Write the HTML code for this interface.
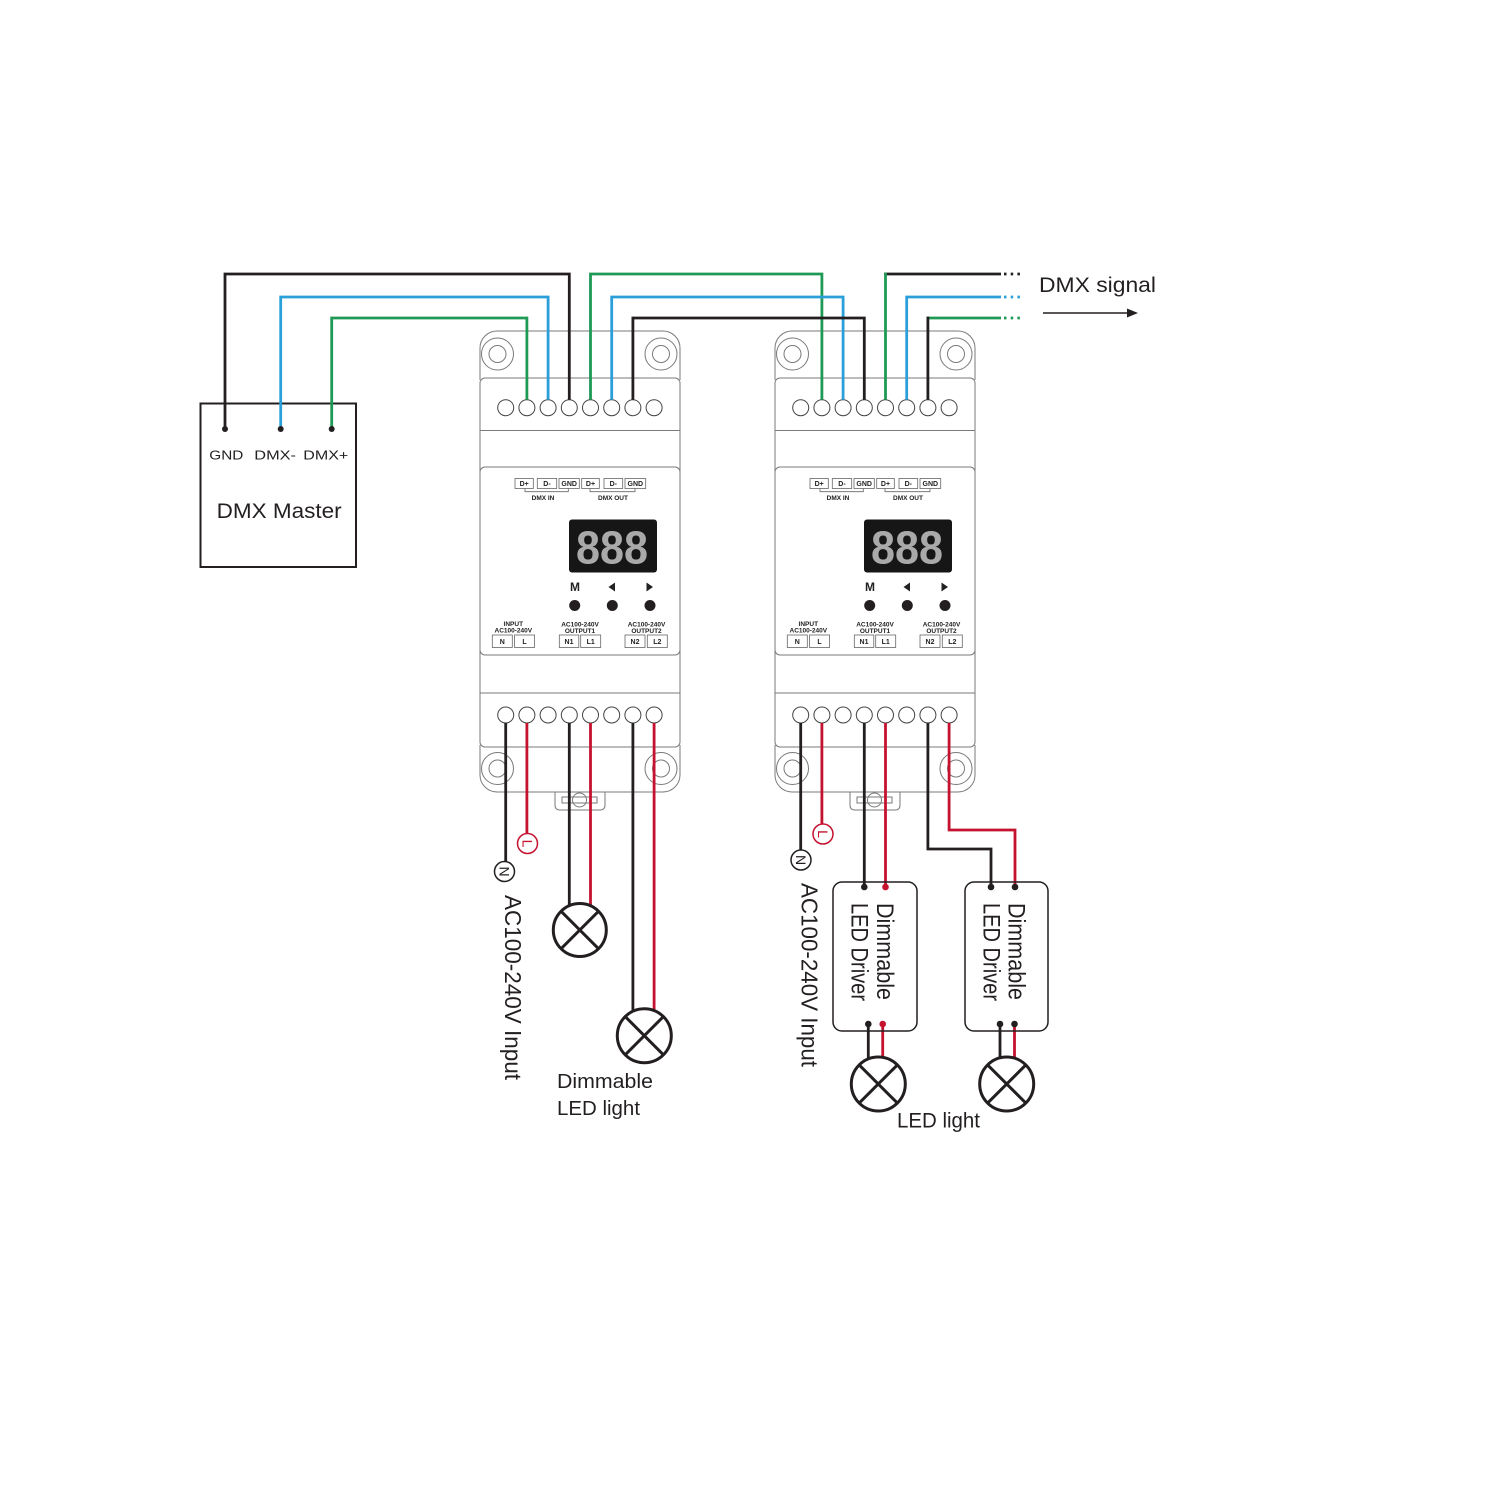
<!DOCTYPE html>
<html>
<head>
<meta charset="utf-8">
<style>
html,body{margin:0;padding:0;background:#fff;}
svg{display:block;}
text{font-family:"Liberation Sans",sans-serif;}
.pl{font-weight:bold;font-size:7px;fill:#222;text-anchor:middle;}
</style>
</head>
<body>
<svg width="1500" height="1500" viewBox="0 0 1500 1500" xmlns="http://www.w3.org/2000/svg">
<rect width="1500" height="1500" fill="#fff"/>

<!-- ================= LEFT DEVICE ================= -->
<g id="dev1">
  <g fill="none" stroke="#7a7a7a" stroke-width="1">
    <path d="M480,380 V348 A17,17 0 0 1 497,331 H663 A17,17 0 0 1 680,348 V380"/>
    <rect x="480" y="378" width="200" height="369" rx="5"/>
    <line x1="480" y1="430.5" x2="680" y2="430.5"/>
    <rect x="480" y="467" width="200" height="188" rx="5"/>
    <line x1="480" y1="693" x2="680" y2="693"/>
    <path d="M480,745 V775 A17,17 0 0 0 497,792 H663 A17,17 0 0 0 680,775 V745"/>
    <circle cx="497.5" cy="354" r="16"/><circle cx="497.5" cy="354" r="8.5"/>
    <circle cx="661" cy="354" r="16"/><circle cx="661" cy="354" r="8.5"/>
    <circle cx="497.5" cy="768.5" r="16"/><circle cx="497.5" cy="768.5" r="8.5"/>
    <circle cx="661" cy="768.5" r="16"/><circle cx="661" cy="768.5" r="8.5"/>
    <path d="M555,792 V805 Q555,810 560,810 H600 Q605,810 605,805 V792"/>
    <circle cx="579.5" cy="800" r="7"/>
    <rect x="562" y="797" width="35" height="6"/>
  </g>
  <g fill="#fff" stroke="#444" stroke-width="1">
    <circle cx="505.7" cy="407.7" r="8"/><circle cx="526.9" cy="407.7" r="8"/>
    <circle cx="548.1" cy="407.7" r="8"/><circle cx="569.3" cy="407.7" r="8"/>
    <circle cx="590.5" cy="407.7" r="8"/><circle cx="611.7" cy="407.7" r="8"/>
    <circle cx="632.9" cy="407.7" r="8"/><circle cx="654.1" cy="407.7" r="8"/>
    <circle cx="505.7" cy="715" r="8"/><circle cx="526.9" cy="715" r="8"/>
    <circle cx="548.1" cy="715" r="8"/><circle cx="569.3" cy="715" r="8"/>
    <circle cx="590.5" cy="715" r="8"/><circle cx="611.7" cy="715" r="8"/>
    <circle cx="632.9" cy="715" r="8"/><circle cx="654.1" cy="715" r="8"/>
  </g>
  <g fill="none" stroke="#666" stroke-width="0.8">
    <rect x="515" y="478.5" width="18.3" height="10"/>
    <rect x="537.3" y="478.5" width="19.4" height="10"/>
    <rect x="559" y="478.5" width="20.3" height="10"/>
    <rect x="581.7" y="478.5" width="17.6" height="10"/>
    <rect x="604" y="478.5" width="18.7" height="10"/>
    <rect x="625" y="478.5" width="20.7" height="10"/>
    <path d="M525,488.5 V491.7 H568.3 V488.5"/>
    <path d="M590,488.5 V491.7 H635 V488.5"/>
  </g>
  <text class="pl" x="524.2" y="486.2">D+</text>
  <text class="pl" x="547" y="486.2">D-</text>
  <text class="pl" x="569.2" y="486.2">GND</text>
  <text class="pl" x="590.5" y="486.2">D+</text>
  <text class="pl" x="613.3" y="486.2">D-</text>
  <text class="pl" x="635.3" y="486.2">GND</text>
  <text class="pl" x="543" y="500" style="font-size:6.5px">DMX IN</text>
  <text class="pl" x="613" y="500" style="font-size:6.5px">DMX OUT</text>
  <rect x="569" y="519.5" width="88" height="53" rx="3" fill="#161616"/>
  <text x="576" y="563.5" font-size="46" font-weight="bold" fill="#a9a9a9" textLength="72" lengthAdjust="spacingAndGlyphs">888</text>
  <text x="575" y="591" font-size="12" font-weight="bold" fill="#222" text-anchor="middle">M</text>
  <polygon points="608.5,587 615,582.5 615,591.5" fill="#222"/>
  <polygon points="653,587 646.5,582.5 646.5,591.5" fill="#222"/>
  <circle cx="574.7" cy="605.5" r="5.5" fill="#231f20"/>
  <circle cx="612.3" cy="605.5" r="5.5" fill="#231f20"/>
  <circle cx="650" cy="605.5" r="5.5" fill="#231f20"/>
  <text class="pl" x="513.3" y="626" style="font-size:6.5px">INPUT</text>
  <text class="pl" x="513.3" y="632.3" style="font-size:6.5px">AC100-240V</text>
  <text class="pl" x="580" y="626.5" style="font-size:6.5px">AC100-240V</text>
  <text class="pl" x="580" y="633" style="font-size:6.5px">OUTPUT1</text>
  <text class="pl" x="646.5" y="626.5" style="font-size:6.5px">AC100-240V</text>
  <text class="pl" x="646.5" y="633" style="font-size:6.5px">OUTPUT2</text>
  <g fill="none" stroke="#666" stroke-width="0.8">
    <rect x="492.3" y="635" width="20" height="12.5"/>
    <rect x="514.5" y="635" width="20" height="12.5"/>
    <rect x="559.3" y="635" width="19.5" height="12.5"/>
    <rect x="580.7" y="635" width="20" height="12.5"/>
    <rect x="625" y="635" width="20" height="12.5"/>
    <rect x="647.3" y="635" width="20" height="12.5"/>
  </g>
  <text class="pl" x="502.3" y="644">N</text>
  <text class="pl" x="524.5" y="644">L</text>
  <text class="pl" x="569" y="644">N1</text>
  <text class="pl" x="590.7" y="644">L1</text>
  <text class="pl" x="635" y="644">N2</text>
  <text class="pl" x="657.3" y="644">L2</text>
</g>

<!-- ================= RIGHT DEVICE ================= -->
<g transform="translate(295,0)">
  <g fill="none" stroke="#7a7a7a" stroke-width="1">
    <path d="M480,380 V348 A17,17 0 0 1 497,331 H663 A17,17 0 0 1 680,348 V380"/>
    <rect x="480" y="378" width="200" height="369" rx="5"/>
    <line x1="480" y1="430.5" x2="680" y2="430.5"/>
    <rect x="480" y="467" width="200" height="188" rx="5"/>
    <line x1="480" y1="693" x2="680" y2="693"/>
    <path d="M480,745 V775 A17,17 0 0 0 497,792 H663 A17,17 0 0 0 680,775 V745"/>
    <circle cx="497.5" cy="354" r="16"/><circle cx="497.5" cy="354" r="8.5"/>
    <circle cx="661" cy="354" r="16"/><circle cx="661" cy="354" r="8.5"/>
    <circle cx="497.5" cy="768.5" r="16"/><circle cx="497.5" cy="768.5" r="8.5"/>
    <circle cx="661" cy="768.5" r="16"/><circle cx="661" cy="768.5" r="8.5"/>
    <path d="M555,792 V805 Q555,810 560,810 H600 Q605,810 605,805 V792"/>
    <circle cx="579.5" cy="800" r="7"/>
    <rect x="562" y="797" width="35" height="6"/>
  </g>
  <g fill="#fff" stroke="#444" stroke-width="1">
    <circle cx="505.7" cy="407.7" r="8"/><circle cx="526.9" cy="407.7" r="8"/>
    <circle cx="548.1" cy="407.7" r="8"/><circle cx="569.3" cy="407.7" r="8"/>
    <circle cx="590.5" cy="407.7" r="8"/><circle cx="611.7" cy="407.7" r="8"/>
    <circle cx="632.9" cy="407.7" r="8"/><circle cx="654.1" cy="407.7" r="8"/>
    <circle cx="505.7" cy="715" r="8"/><circle cx="526.9" cy="715" r="8"/>
    <circle cx="548.1" cy="715" r="8"/><circle cx="569.3" cy="715" r="8"/>
    <circle cx="590.5" cy="715" r="8"/><circle cx="611.7" cy="715" r="8"/>
    <circle cx="632.9" cy="715" r="8"/><circle cx="654.1" cy="715" r="8"/>
  </g>
  <g fill="none" stroke="#666" stroke-width="0.8">
    <rect x="515" y="478.5" width="18.3" height="10"/>
    <rect x="537.3" y="478.5" width="19.4" height="10"/>
    <rect x="559" y="478.5" width="20.3" height="10"/>
    <rect x="581.7" y="478.5" width="17.6" height="10"/>
    <rect x="604" y="478.5" width="18.7" height="10"/>
    <rect x="625" y="478.5" width="20.7" height="10"/>
    <path d="M525,488.5 V491.7 H568.3 V488.5"/>
    <path d="M590,488.5 V491.7 H635 V488.5"/>
  </g>
  <text class="pl" x="524.2" y="486.2">D+</text>
  <text class="pl" x="547" y="486.2">D-</text>
  <text class="pl" x="569.2" y="486.2">GND</text>
  <text class="pl" x="590.5" y="486.2">D+</text>
  <text class="pl" x="613.3" y="486.2">D-</text>
  <text class="pl" x="635.3" y="486.2">GND</text>
  <text class="pl" x="543" y="500" style="font-size:6.5px">DMX IN</text>
  <text class="pl" x="613" y="500" style="font-size:6.5px">DMX OUT</text>
  <rect x="569" y="519.5" width="88" height="53" rx="3" fill="#161616"/>
  <text x="576" y="563.5" font-size="46" font-weight="bold" fill="#a9a9a9" textLength="72" lengthAdjust="spacingAndGlyphs">888</text>
  <text x="575" y="591" font-size="12" font-weight="bold" fill="#222" text-anchor="middle">M</text>
  <polygon points="608.5,587 615,582.5 615,591.5" fill="#222"/>
  <polygon points="653,587 646.5,582.5 646.5,591.5" fill="#222"/>
  <circle cx="574.7" cy="605.5" r="5.5" fill="#231f20"/>
  <circle cx="612.3" cy="605.5" r="5.5" fill="#231f20"/>
  <circle cx="650" cy="605.5" r="5.5" fill="#231f20"/>
  <text class="pl" x="513.3" y="626" style="font-size:6.5px">INPUT</text>
  <text class="pl" x="513.3" y="632.3" style="font-size:6.5px">AC100-240V</text>
  <text class="pl" x="580" y="626.5" style="font-size:6.5px">AC100-240V</text>
  <text class="pl" x="580" y="633" style="font-size:6.5px">OUTPUT1</text>
  <text class="pl" x="646.5" y="626.5" style="font-size:6.5px">AC100-240V</text>
  <text class="pl" x="646.5" y="633" style="font-size:6.5px">OUTPUT2</text>
  <g fill="none" stroke="#666" stroke-width="0.8">
    <rect x="492.3" y="635" width="20" height="12.5"/>
    <rect x="514.5" y="635" width="20" height="12.5"/>
    <rect x="559.3" y="635" width="19.5" height="12.5"/>
    <rect x="580.7" y="635" width="20" height="12.5"/>
    <rect x="625" y="635" width="20" height="12.5"/>
    <rect x="647.3" y="635" width="20" height="12.5"/>
  </g>
  <text class="pl" x="502.3" y="644">N</text>
  <text class="pl" x="524.5" y="644">L</text>
  <text class="pl" x="569" y="644">N1</text>
  <text class="pl" x="590.7" y="644">L1</text>
  <text class="pl" x="635" y="644">N2</text>
  <text class="pl" x="657.3" y="644">L2</text>
</g>

<!-- ================= DMX MASTER ================= -->
<rect x="200.5" y="403.5" width="155.5" height="163.5" fill="none" stroke="#231f20" stroke-width="2"/>
<text x="209.3" y="459.5" font-size="13" fill="#231f20" textLength="34" lengthAdjust="spacingAndGlyphs">GND</text>
<text x="254.3" y="459.5" font-size="13" fill="#231f20" textLength="41.7" lengthAdjust="spacingAndGlyphs">DMX-</text>
<text x="303.3" y="459.5" font-size="13" fill="#231f20" textLength="45" lengthAdjust="spacingAndGlyphs">DMX+</text>
<text x="216.7" y="518" font-size="21" fill="#231f20" textLength="125" lengthAdjust="spacingAndGlyphs">DMX Master</text>

<!-- ================= TOP WIRES ================= -->
<g fill="none" stroke-width="2.8" stroke-linejoin="miter">
  <path d="M225,429 V274 H569.3 V399.7" stroke="#231f20"/>
  <path d="M280.7,429 V297 H548.1 V399.7" stroke="#2b9fd9"/>
  <path d="M331.7,429 V318 H526.9 V399.7" stroke="#1e9a55"/>
  <path d="M590.5,399.7 V274 H821.9 V399.7" stroke="#1e9a55"/>
  <path d="M611.7,399.7 V297 H843.1 V399.7" stroke="#2b9fd9"/>
  <path d="M632.9,399.7 V318 H864.3 V399.7" stroke="#231f20"/>
  <path d="M884.1,274 H1001" stroke="#231f20"/>
  <path d="M885.5,399.7 V272.6" stroke="#1e9a55"/>
  <path d="M906.7,399.7 V297 H1001" stroke="#2b9fd9"/>
  <path d="M926.5,318 H1001" stroke="#1e9a55"/>
  <path d="M927.9,399.7 V316.6" stroke="#231f20"/>
  <path d="M1004,274 H1021" stroke="#231f20" stroke-dasharray="2.5,4.2"/>
  <path d="M1004,297 H1021" stroke="#2b9fd9" stroke-dasharray="2.5,4.2"/>
  <path d="M1004,318 H1021" stroke="#1e9a55" stroke-dasharray="2.5,4.2"/>
</g>
<circle cx="225" cy="429" r="3" fill="#231f20"/>
<circle cx="280.7" cy="429" r="3" fill="#231f20"/>
<circle cx="331.7" cy="429" r="3" fill="#231f20"/>

<text x="1039" y="292" font-size="21" fill="#231f20" textLength="117" lengthAdjust="spacingAndGlyphs">DMX signal</text>
<line x1="1043" y1="313" x2="1129" y2="313" stroke="#231f20" stroke-width="1.5"/>
<polygon points="1138,313 1127,308.5 1127,317.5" fill="#231f20"/>

<!-- ================= BOTTOM LEFT WIRES ================= -->
<g fill="none" stroke-width="2.8">
  <path d="M505.7,723 V862" stroke="#231f20"/>
  <path d="M526.9,723 V833.5" stroke="#c4122f"/>
  <path d="M569.3,723 V906" stroke="#231f20"/>
  <path d="M590.5,723 V906" stroke="#c4122f"/>
  <path d="M632.9,723 V1012" stroke="#231f20"/>
  <path d="M654.1,723 V1012" stroke="#c4122f"/>
</g>
<circle cx="504.5" cy="871.5" r="10" fill="#fff" stroke="#231f20" stroke-width="1.5"/>
<text transform="translate(504.5,871.5) rotate(90)" text-anchor="middle" dominant-baseline="central" font-size="14" fill="#231f20">N</text>
<circle cx="527.5" cy="843.5" r="10" fill="#fff" stroke="#c4122f" stroke-width="1.5"/>
<text transform="translate(527.5,843.5) rotate(90)" text-anchor="middle" dominant-baseline="central" font-size="14" fill="#c4122f">L</text>
<text transform="translate(505,895) rotate(90)" font-size="23" fill="#231f20" textLength="185" lengthAdjust="spacingAndGlyphs">AC100-240V Input</text>

<g fill="#fff" stroke="#231f20" stroke-width="3">
  <circle cx="579.8" cy="930" r="26.5"/>
  <path d="M561.1,911.3 L598.5,948.7 M598.5,911.3 L561.1,948.7" fill="none"/>
  <circle cx="644.3" cy="1035.7" r="27"/>
  <path d="M625.2,1016.6 L663.4,1054.8 M663.4,1016.6 L625.2,1054.8" fill="none"/>
</g>
<text x="557" y="1088" font-size="20" fill="#231f20" textLength="96" lengthAdjust="spacingAndGlyphs">Dimmable</text>
<text x="557" y="1115" font-size="20" fill="#231f20" textLength="83" lengthAdjust="spacingAndGlyphs">LED light</text>

<!-- ================= BOTTOM RIGHT WIRES ================= -->
<g fill="none" stroke-width="2.8">
  <path d="M800.7,723 V850" stroke="#231f20"/>
  <path d="M821.9,723 V824" stroke="#c4122f"/>
  <path d="M864.3,723 V887" stroke="#231f20"/>
  <path d="M885.5,723 V887" stroke="#c4122f"/>
  <path d="M927.9,723 V849 H991 V887" stroke="#231f20"/>
  <path d="M949.1,723 V830 H1015 V887" stroke="#c4122f"/>
  <path d="M868.3,1024 V1060" stroke="#231f20"/>
  <path d="M882.7,1024 V1058" stroke="#c4122f"/>
  <path d="M1000,1024 V1060" stroke="#231f20"/>
  <path d="M1014.5,1024 V1058" stroke="#c4122f"/>
</g>
<circle cx="801" cy="860" r="10" fill="#fff" stroke="#231f20" stroke-width="1.5"/>
<text transform="translate(801,860) rotate(90)" text-anchor="middle" dominant-baseline="central" font-size="14" fill="#231f20">N</text>
<circle cx="823" cy="834" r="10" fill="#fff" stroke="#c4122f" stroke-width="1.5"/>
<text transform="translate(823,834) rotate(90)" text-anchor="middle" dominant-baseline="central" font-size="14" fill="#c4122f">L</text>
<text transform="translate(801.5,883) rotate(90)" font-size="23" fill="#231f20" textLength="184" lengthAdjust="spacingAndGlyphs">AC100-240V Input</text>

<rect x="833" y="882" width="84" height="149" rx="9" fill="none" stroke="#231f20" stroke-width="1.5"/>
<rect x="965" y="882" width="83" height="149" rx="9" fill="none" stroke="#231f20" stroke-width="1.5"/>
<text transform="translate(877,903) rotate(90)" font-size="24" fill="#231f20" textLength="97" lengthAdjust="spacingAndGlyphs">Dimmable</text>
<text transform="translate(851.5,903) rotate(90)" font-size="24" fill="#231f20" textLength="98" lengthAdjust="spacingAndGlyphs">LED Driver</text>
<text transform="translate(1008.5,903) rotate(90)" font-size="24" fill="#231f20" textLength="97" lengthAdjust="spacingAndGlyphs">Dimmable</text>
<text transform="translate(983.5,903) rotate(90)" font-size="24" fill="#231f20" textLength="98" lengthAdjust="spacingAndGlyphs">LED Driver</text>

<circle cx="864.3" cy="887" r="3.3" fill="#231f20"/>
<circle cx="885.5" cy="887" r="3.3" fill="#c4122f"/>
<circle cx="991" cy="887" r="3.3" fill="#231f20"/>
<circle cx="1015" cy="887" r="3.3" fill="#231f20"/>
<circle cx="868.3" cy="1024" r="3.3" fill="#231f20"/>
<circle cx="882.7" cy="1024" r="3.3" fill="#c4122f"/>
<circle cx="1000" cy="1024" r="3.3" fill="#231f20"/>
<circle cx="1014.5" cy="1024" r="3.3" fill="#231f20"/>

<g fill="#fff" stroke="#231f20" stroke-width="3">
  <circle cx="878.3" cy="1084" r="27"/>
  <path d="M859.2,1064.9 L897.4,1103.1 M897.4,1064.9 L859.2,1103.1" fill="none"/>
  <circle cx="1006.7" cy="1084" r="27"/>
  <path d="M987.6,1064.9 L1025.8,1103.1 M1025.8,1064.9 L987.6,1103.1" fill="none"/>
</g>
<text x="897" y="1127.5" font-size="21" fill="#231f20" textLength="83" lengthAdjust="spacingAndGlyphs">LED light</text>

</svg>
</body>
</html>
